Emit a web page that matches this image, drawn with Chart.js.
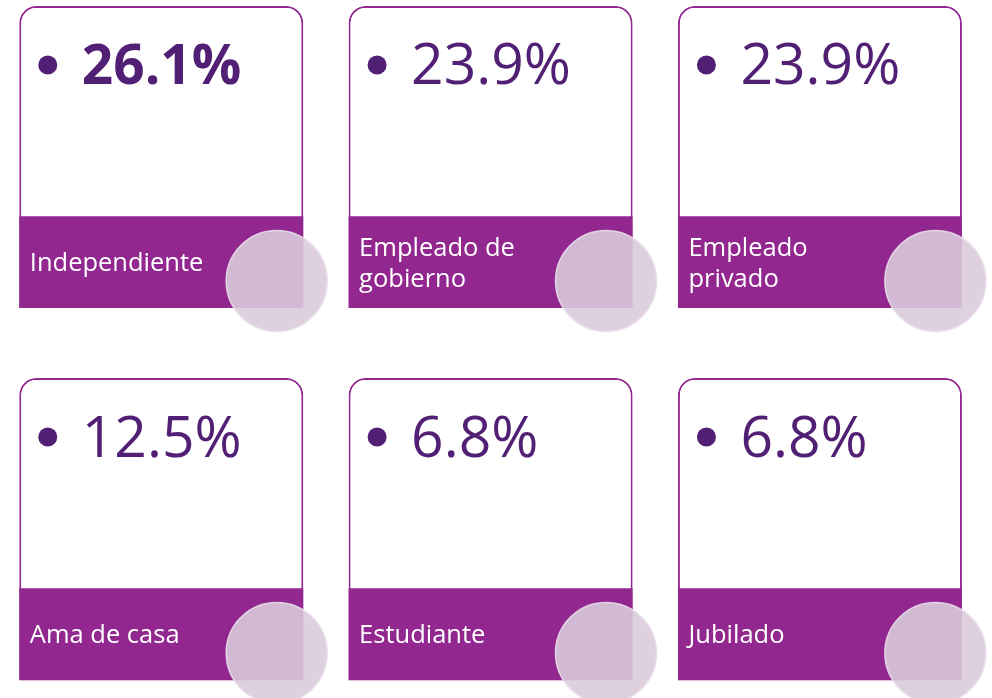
<!DOCTYPE html>
<html>
<head>
<meta charset="utf-8">
<script src="https://cdn.jsdelivr.net/npm/chart.js@4.4.1/dist/chart.umd.min.js"></script>
<style>
  html, body { margin: 0; padding: 0; background: #fff; }
  #wrap { width: 992px; height: 698px; position: relative; }
</style>
</head>
<body>
<div id="wrap"><canvas id="chart"></canvas></div>
<script>
// occupation share, one card per category
const categories = [['Independiente'], ['Empleado de', 'gobierno'], ['Empleado', 'privado'],
                    ['Ama de casa'], ['Estudiante'], ['Jubilado']];
const values = [26.1, 23.9, 23.9, 12.5, 6.8, 6.8];

const COLS = 3;
const purple = '#92278F';
const darkPurple = '#511F74';

// card geometry in grid units (one column / one row = 1)
const cardW = 0.861, cardH = 0.812, bandTop = 0.565;
const circleX = 0.781, circleY = 0.739;

const col = (i) => i % COLS;
const row = (i) => Math.floor(i / COLS);

const cards = values.map((v, i) => ({ x: col(i) + cardW / 2, y: [row(i), row(i) + cardH] }));
const bands = values.map((v, i) => ({ x: col(i) + cardW / 2, y: [row(i) + bandTop, row(i) + cardH] }));
const dots = values.map((v, i) => ({ x: col(i) + circleX, y: row(i) + circleY }));

// draws the value and the category name on each card
const cardText = {
  id: 'cardText',
  afterDatasetsDraw(chart) {
    const ctx = chart.ctx;
    const cardMeta = chart.getDatasetMeta(0);
    const bandMeta = chart.getDatasetMeta(1);
    const maxVal = Math.max(...values);

    ctx.save();
    cardMeta.data.forEach((bar, i) => {
      const left = bar.x - bar.width / 2;
      const top = Math.min(bar.y, bar.base);

      // bullet + value
      ctx.fillStyle = darkPurple;
      ctx.beginPath();
      ctx.arc(left + 28.5, top + 59, 9.5, 0, Math.PI * 2);
      ctx.fill();
      ctx.font = values[i] === maxVal ? 'bold 55px "Open Sans"' : '57px "Open Sans"';
      ctx.textAlign = 'left';
      ctx.textBaseline = 'alphabetic';
      ctx.fillText(values[i].toFixed(1) + '%', left + 62.5, top + 78.5);

      // label in the band
      const band = bandMeta.data[i];
      const mid = (band.y + band.base) / 2;
      const lines = categories[i];
      ctx.fillStyle = '#ffffff';
      ctx.font = '25.5px "Open Sans"';
      lines.forEach((line, k) => {
        ctx.fillText(line, left + 10.5, mid + 9 + (k - (lines.length - 1) / 2) * 31);
      });
    });
    ctx.restore();
  }
};

new Chart(document.getElementById('chart'), {
  type: 'bar',
  data: {
    datasets: [
      {
        label: 'card',
        data: cards,
        order: 3,
        grouped: false,
        barThickness: 284,
        backgroundColor: '#ffffff',
        borderColor: purple,
        borderWidth: 2,
        borderSkipped: false,
        borderRadius: { topLeft: 17, topRight: 17, bottomLeft: 0, bottomRight: 0 },
        inflateAmount: 0
      },
      {
        label: 'band',
        data: bands,
        order: 2,
        grouped: false,
        barThickness: 284,
        backgroundColor: purple,
        borderWidth: 0,
        borderSkipped: false,
        borderRadius: 0,
        inflateAmount: 0
      },
      {
        type: 'scatter',
        label: 'circle',
        data: dots,
        order: 1,
        pointRadius: 50.5,
        pointBackgroundColor: 'rgba(218,203,220,0.9)',
        pointBorderColor: 'rgba(232,222,234,0.9)',
        pointBorderWidth: 1.5,
        clip: false
      }
    ]
  },
  options: {
    responsive: true,
    maintainAspectRatio: false,
    animation: false,
    events: [],
    layout: { padding: 0, autoPadding: false },
    plugins: { legend: { display: false }, tooltip: { enabled: false } },
    scales: {
      x: { type: 'linear', display: false, offset: false, min: -0.0592, max: 2.953 },
      y: { type: 'linear', display: false, reverse: true, min: -0.0161, max: 1.860 }
    }
  },
  plugins: [cardText]
});
</script>
</body>
</html>
